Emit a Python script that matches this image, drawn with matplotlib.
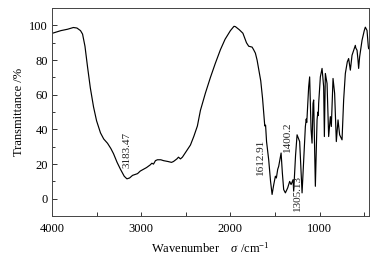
import numpy as np
import matplotlib
matplotlib.use('Agg')
import matplotlib.pyplot as plt
from matplotlib.ticker import MultipleLocator

# FTIR spectrum
wavenumber = [
    4000, 3900, 3825, 3760, 3720, 3680, 3657, 3630, 3601, 3570, 3534, 3500,
    3456, 3420, 3377, 3340, 3310, 3270, 3232, 3190, 3160, 3130, 3097, 3070,
    3041, 3010, 2974, 2940, 2900, 2880, 2862, 2840, 2818, 2780, 2750, 2700,
    2660, 2638, 2600, 2582, 2560, 2538, 2500, 2448, 2410, 2370, 2336, 2280,
    2224, 2170, 2112, 2060, 2000, 1960, 1944, 1900, 1860, 1820, 1795, 1757,
    1740, 1720, 1701, 1680, 1660, 1640, 1627, 1615, 1606, 1595, 1571, 1550,
    1533, 1515, 1496, 1485, 1470, 1459, 1432, 1418, 1403, 1384, 1358, 1336,
    1320, 1298, 1291, 1270, 1253, 1224, 1210, 1197, 1179, 1160, 1150, 1145,
    1141, 1123, 1112, 1096, 1085, 1074, 1067, 1048, 1029, 1020, 1015, 1011,
    992, 973, 955, 947, 936, 917, 899, 880, 869, 850, 832, 813,
    794, 776, 749, 731, 712, 690, 675, 656, 637, 600, 595, 581,
    570, 563, 552, 525, 500, 488, 469, 455, 451,
]
transmittance = [
    95.4, 97.0, 97.8, 98.8, 98.5, 97.0, 95.0, 88.0, 76.0, 64.0, 53.0, 45.0,
    38.0, 34.5, 32.0, 29.0, 26.0, 21.0, 17.0, 13.0, 11.5, 12.0, 13.5, 14.0,
    14.5, 16.0, 17.0, 18.0, 19.5, 20.5, 20.0, 22.0, 22.5, 22.5, 22.0, 21.5,
    21.0, 21.5, 23.0, 24.0, 23.0, 24.0, 27.0, 31.0, 36.0, 42.0, 51.0, 61.0,
    70.0, 78.0, 86.0, 92.0, 97.0, 99.5, 99.3, 97.5, 95.5, 90.0, 88.0, 87.5,
    86.0, 84.0, 80.0, 74.0, 68.0, 58.0, 50.0, 42.0, 42.5, 33.0, 22.5, 10.0,
    2.5, 8.0, 13.0, 12.0, 17.0, 18.7, 26.4, 15.0, 5.3, 3.4, 6.3, 10.0,
    8.2, 11.0, 4.4, 25.0, 36.9, 33.0, 18.0, 3.4, 22.5, 41.7, 46.0, 44.0,
    47.0, 64.6, 70.3, 39.8, 32.1, 55.0, 57.0, 7.2, 45.5, 50.0, 48.0, 55.0,
    70.3, 75.2, 64.6, 35.9, 72.3, 66.5, 35.9, 47.4, 41.7, 69.4, 60.8, 33.0,
    45.5, 36.9, 34.0, 57.0, 72.3, 79.0, 80.9, 74.2, 82.8, 88.5, 87.0, 85.7,
    80.0, 75.2, 81.8, 91.4, 97.0, 99.0, 97.1, 88.0, 86.6,
]

# peak labels: text, x position, bottom of the rotated text (data y)
peak_labels = ['3183.47', '1612.91', '1400.2', '1305.13']
peak_x = [3160, 1662, 1358, 1253]
peak_y = [18, 14, 27, -7]

plt.rcParams['font.family'] = ['Liberation Serif', 'DejaVu Serif']
plt.rcParams['mathtext.fontset'] = 'custom'
plt.rcParams['mathtext.rm'] = 'Liberation Serif'
plt.rcParams['mathtext.it'] = 'Liberation Serif:italic'

fig = plt.figure(figsize=(3.82, 2.61), dpi=100, facecolor='white')
ax = fig.add_axes([0.136, 0.172, 0.829, 0.797])

ax.plot(wavenumber, transmittance, color='black', lw=0.85)

for txt, px, py in zip(peak_labels, peak_x, peak_y):
    ax.text(px, py, txt, rotation=90, ha='center', va='bottom',
            fontsize=8, color='#222222')

ax.set_xlim(4000, 451)
ax.set_ylim(-10, 110)
ax.xaxis.set_major_locator(MultipleLocator(1000))
ax.xaxis.set_minor_locator(MultipleLocator(500))
ax.yaxis.set_major_locator(MultipleLocator(20))
ax.yaxis.set_minor_locator(MultipleLocator(10))

ax.tick_params(which='both', direction='in', top=False, right=False,
               labelsize=9, color='#333333')
ax.tick_params(which='major', length=3.5, width=0.7)
ax.tick_params(which='minor', length=2.5, width=0.7)
ax.tick_params(axis='x', which='both', length=3, pad=5)
ax.tick_params(axis='y', pad=3)
for sp in ax.spines.values():
    sp.set_linewidth(0.7)
    sp.set_color('#444444')

ax.set_xlabel('Wavenumber    $\\sigma$ /cm$^{-1}$', fontsize=9, labelpad=4)
ax.set_ylabel('Transmittance /%', fontsize=9, labelpad=3)

fig.savefig('out.png', dpi=100)
